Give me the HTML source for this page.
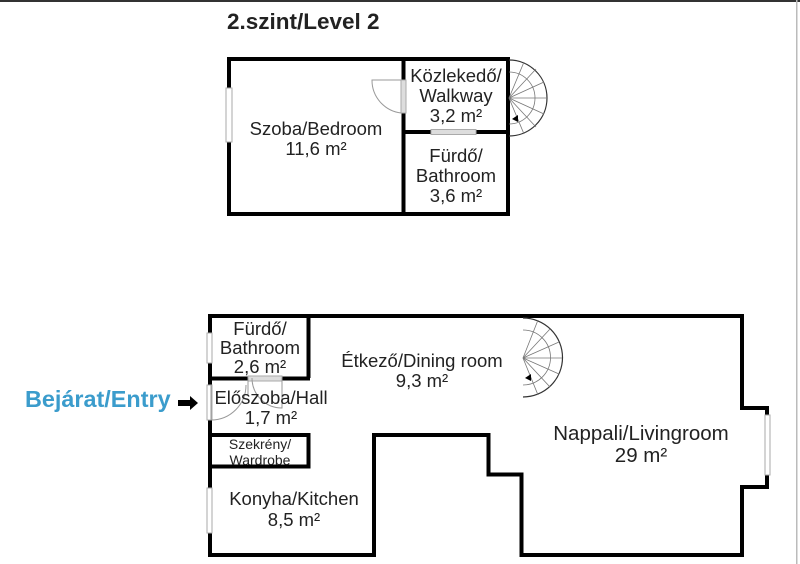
<!DOCTYPE html>
<html><head><meta charset="utf-8"><style>
html,body{margin:0;padding:0;background:#fff;width:800px;height:564px;overflow:hidden}
svg{display:block}
text{font-family:"Liberation Sans",Arial,sans-serif;fill:#222}
</style></head><body>
<svg width="800" height="564" viewBox="0 0 800 564" xmlns="http://www.w3.org/2000/svg">
<rect x="0" y="0" width="800" height="2" fill="#333"/>
<rect x="796" y="0" width="1.5" height="564" fill="#bbb"/>
<text x="227" y="29" font-size="22.5" font-weight="bold">2.szint/Level 2</text>

<!-- Upper plan -->
<g fill="none" stroke="#000" stroke-width="4">
<rect x="229" y="59" width="279" height="155"/>
<line x1="403.5" y1="59" x2="403.5" y2="214"/>
<line x1="403" y1="132" x2="508" y2="132"/>
</g>
<rect x="226" y="88" width="6" height="54" fill="#fff" stroke="#aaa" stroke-width="1"/>
<rect x="401" y="80" width="5" height="33" fill="#ddd" stroke="#aaa" stroke-width="1"/>
<path d="M401 80 L372 80 A33 33 0 0 0 401 113" fill="none" stroke="#999" stroke-width="1"/>
<rect x="431" y="129.5" width="45" height="5" fill="#ddd" stroke="#aaa" stroke-width="1"/>
<g fill="none" stroke="#777" stroke-width="0.8">
<path d="M509 60 A38 38 0 0 1 509 136" stroke="#333" stroke-width="1.2"/>
<path d="M509 72 A26 26 0 0 1 509 124"/>
<line x1="509" y1="98" x2="547" y2="98"/><line x1="509" y1="98" x2="544" y2="82"/><line x1="509" y1="98" x2="536" y2="69"/><line x1="509" y1="98" x2="524" y2="62"/><line x1="509" y1="98" x2="544" y2="114"/><line x1="509" y1="98" x2="536" y2="127"/><line x1="509" y1="98" x2="524" y2="134"/>
</g>
<path d="M512 119 l6 -4 l0 7z" fill="#000"/>
<g font-size="18.5" text-anchor="middle">
<text x="316" y="135">Szoba/Bedroom</text><text x="316" y="155">11,6 m²</text>
<text x="456" y="82">Közlekedő/</text><text x="456" y="102">Walkway</text><text x="456" y="122">3,2 m²</text>
<text x="456" y="162">Fürdő/</text><text x="456" y="182">Bathroom</text><text x="456" y="202">3,6 m²</text>
</g>

<!-- Lower plan -->
<path d="M210 316 L742 316 L742 408 L767 408 L767 487 L742 487 L742 555 L521.5 555 L521.5 474.5 L488.5 474.5 L488.5 435 L374 435 L374 555 L210 555 Z" fill="none" stroke="#000" stroke-width="4"/>
<g fill="none" stroke="#000" stroke-width="4">
<line x1="308.5" y1="316" x2="308.5" y2="378"/>
<line x1="210" y1="378.5" x2="310" y2="378.5"/>
<rect x="210" y="435" width="98.5" height="31.5"/>
</g>
<rect x="207" y="333" width="5" height="30" fill="#fff" stroke="#aaa" stroke-width="1"/>
<rect x="207" y="385" width="5" height="35" fill="#fff" stroke="#aaa" stroke-width="1"/>
<path d="M211 385 L211 420 A35 35 0 0 0 246 385" fill="none" stroke="#999" stroke-width="1"/>
<rect x="207" y="488" width="5" height="45" fill="#fff" stroke="#aaa" stroke-width="1"/>
<rect x="248" y="376" width="34" height="5" fill="#ddd" stroke="#aaa" stroke-width="1"/>
<path d="M248 378 L248 395 M282 378 L282 408 A30 30 0 0 1 252 378" fill="none" stroke="#999" stroke-width="1"/>
<rect x="765" y="415" width="5" height="60" fill="#fff" stroke="#aaa" stroke-width="1"/>
<g fill="none" stroke="#777" stroke-width="0.8">
<path d="M523 318 A39 39 0 0 1 523 397" stroke="#333" stroke-width="1.2"/>
<path d="M523 330 A27 27 0 0 1 523 385"/>
<line x1="523" y1="358" x2="562" y2="358"/><line x1="523" y1="358" x2="559" y2="342"/><line x1="523" y1="358" x2="550" y2="329"/><line x1="523" y1="358" x2="538" y2="320"/><line x1="523" y1="358" x2="559" y2="374"/><line x1="523" y1="358" x2="550" y2="387"/><line x1="523" y1="358" x2="538" y2="395"/>
</g>
<path d="M525 378 l6 -4 l0 7z" fill="#000"/>
<g font-size="18.5" text-anchor="middle">
<text x="260" y="335">Fürdő/</text><text x="260" y="354">Bathroom</text><text x="260" y="373">2,6 m²</text>
<text x="422" y="367">Étkező/Dining room</text><text x="422" y="387">9,3 m²</text>
<text x="271" y="404">Előszoba/Hall</text><text x="271" y="424">1,7 m²</text>
<text x="260" y="449" font-size="14">Szekrény/</text><text x="260" y="465" font-size="14">Wardrobe</text>
<text x="294" y="505">Konyha/Kitchen</text><text x="294" y="526">8,5 m²</text>
<text x="641" y="440" font-size="20.5">Nappali/Livingroom</text><text x="641" y="462" font-size="20.5">29 m²</text>
</g>
<text x="25" y="407" font-size="23.4" font-weight="bold" style="fill:#3b9ccc">Bejárat/Entry</text>
<path d="M178 400 L190 400 L190 396 L198 403 L190 410 L190 406 L178 406 Z" fill="#000"/>
</svg>
</body></html>
